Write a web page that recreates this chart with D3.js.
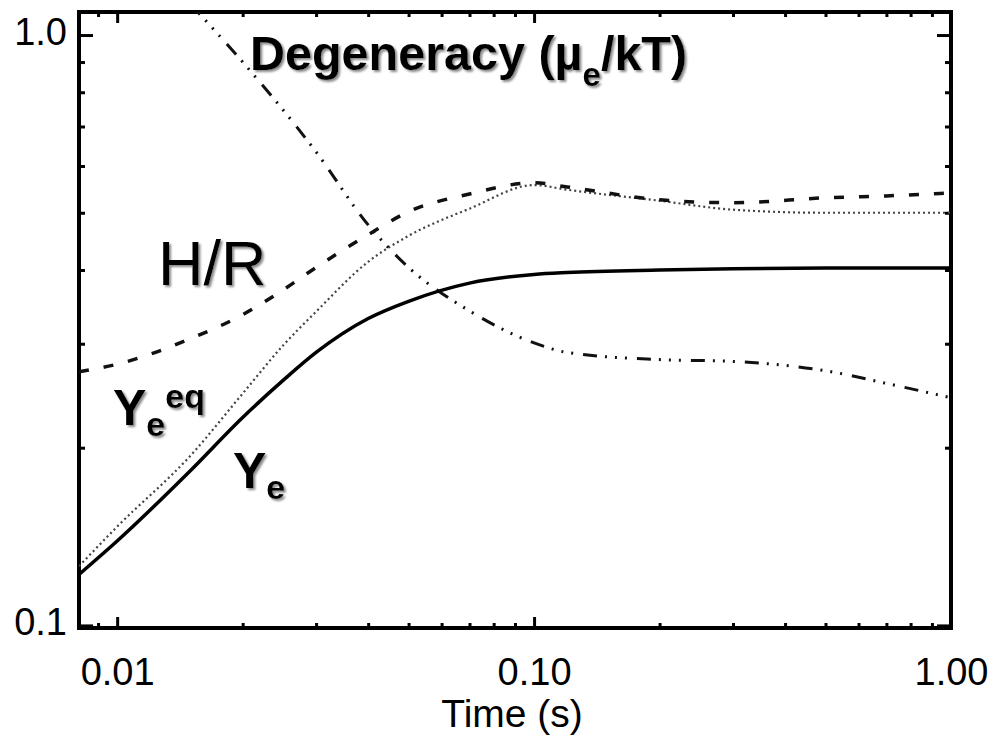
<!DOCTYPE html>
<html>
<head>
<meta charset="utf-8">
<script src="https://cdn.jsdelivr.net/npm/d3@7"></script>
<style>
  body { margin: 0; background: #fff; }
</style>
</head>
<body>
<div id="chart"></div>
<script>
// data (log-log axes)
var times      = [0.0081, 0.01, 0.015, 0.02, 0.025, 0.03, 0.04, 0.05, 0.07, 0.1, 0.12, 0.2, 0.3, 0.5, 0.7, 1.0];
var yeValues   = [0.122, 0.139, 0.183, 0.225, 0.260, 0.290, 0.331, 0.354, 0.380, 0.393, 0.396, 0.400, 0.402, 0.403, 0.403, 0.403];
var yeEqValues = [0.126, 0.147, 0.194, 0.247, 0.298, 0.340, 0.413, 0.457, 0.508, 0.557, 0.547, 0.524, 0.506, 0.500, 0.500, 0.500];
var hrValues   = [0.269, 0.277, 0.306, 0.336, 0.370, 0.404, 0.459, 0.502, 0.538, 0.562, 0.553, 0.526, 0.520, 0.530, 0.534, 0.540];

var degTimes  = [0.015, 0.02, 0.03, 0.04, 0.05, 0.07, 0.1, 0.12, 0.2, 0.3, 0.5, 0.7, 1.0];
var degValues = [1.128, 0.900, 0.634, 0.477, 0.404, 0.341, 0.301, 0.290, 0.282, 0.280, 0.270, 0.257, 0.243];

var xMajorTicks = [0.01, 0.1, 1.0];
var xTickLabels = ["0.01", "0.10", "1.00"];
var yMajorTicks = [0.1, 1.0];
var yTickLabels = ["0.1", "1.0"];

// Step 1: workspace
var svgWidth = 993;
var svgHeight = 737;
var margin = { top: 12, right: 42, bottom: 109, left: 79 };
var width = svgWidth - margin.left - margin.right;
var height = svgHeight - margin.top - margin.bottom;

var svg = d3.select("#chart")
  .append("svg")
  .attr("width", svgWidth)
  .attr("height", svgHeight);

// soft grey drop shadow used by the in-plot labels
var shadow = svg.append("defs").append("filter")
  .attr("id", "shadow")
  .attr("x", "-10%").attr("y", "-20%")
  .attr("width", "130%").attr("height", "150%");
shadow.append("feDropShadow")
  .attr("dx", 2).attr("dy", 2)
  .attr("stdDeviation", 0.8)
  .attr("flood-color", "#8a8a8a")
  .attr("flood-opacity", 1);

var chartGroup = svg.append("g")
  .attr("transform", `translate(${margin.left}, ${margin.top})`);

// Step 2: scales
var xScale = d3.scaleLog()
  .domain([0.0081, 1.0])
  .range([0, width]);

var yScale = d3.scaleLog()
  .domain([0.099, 1.094])
  .range([height, 0]);

var xMinor = xScale.ticks().filter(t => xMajorTicks.indexOf(t) < 0);
var yMinor = yScale.ticks().filter(t => Math.abs(t - 0.1) > 1e-9 && Math.abs(t - 1) > 1e-9);

// Step 3: axes (ticks point inward on all four sides)
function addAxis(axis, transform) {
  var g = chartGroup.append("g")
    .attr("transform", transform)
    .call(axis);
  g.select(".domain").remove();
  g.selectAll(".tick line").attr("stroke", "#000").attr("stroke-width", 3);
  g.selectAll("text")
    .attr("font-family", "Liberation Sans, Arial, sans-serif")
    .attr("font-size", 38)
    .attr("fill", "#000");
  return g;
}

// bottom
addAxis(d3.axisBottom(xScale).tickValues(xMajorTicks).tickSize(-11).tickPadding(30)
  .tickFormat((d, i) => xTickLabels[i]), `translate(0, ${height})`);
addAxis(d3.axisBottom(xScale).tickValues(xMinor).tickSize(-5).tickFormat(""), `translate(0, ${height})`);
// top
addAxis(d3.axisTop(xScale).tickValues(xMajorTicks).tickSize(-11).tickFormat(""), "translate(0, 0)");
addAxis(d3.axisTop(xScale).tickValues(xMinor).tickSize(-5).tickFormat(""), "translate(0, 0)");
// left
var yLab = addAxis(d3.axisLeft(yScale).tickValues(yMajorTicks).tickSize(-14).tickPadding(12)
  .tickFormat((d, i) => yTickLabels[i]), "translate(0, 0)");
yLab.selectAll("text").attr("dy", "0.25em");
addAxis(d3.axisLeft(yScale).tickValues(yMinor).tickSize(-6).tickFormat(""), "translate(0, 0)");
// right
addAxis(d3.axisRight(yScale).tickValues(yMajorTicks).tickSize(-14).tickFormat(""), `translate(${width}, 0)`);
addAxis(d3.axisRight(yScale).tickValues(yMinor).tickSize(-6).tickFormat(""), `translate(${width}, 0)`);

// frame
chartGroup.append("rect")
  .attr("width", width)
  .attr("height", height)
  .attr("fill", "none")
  .attr("stroke", "#000")
  .attr("stroke-width", 4);

// axis title
chartGroup.append("text")
  .attr("x", xScale(0.1) - 22)
  .attr("y", height + 99)
  .attr("text-anchor", "middle")
  .attr("font-family", "Liberation Sans, Arial, sans-serif")
  .attr("font-size", 39)
  .text("Time (s)");

// Step 4: lines
chartGroup.append("clipPath")
  .attr("id", "plotClip")
  .append("rect")
  .attr("width", width)
  .attr("height", height);

var lineGen = d3.line()
  .x(d => xScale(d[0]))
  .y(d => yScale(d[1]))
  .curve(d3.curveMonotoneX);

var lines = chartGroup.append("g").attr("clip-path", "url(#plotClip)");

function addLine(ts, vals, w, color, dash) {
  lines.append("path")
    .datum(ts.map((t, i) => [t, vals[i]]))
    .attr("d", lineGen)
    .attr("fill", "none")
    .attr("stroke", color)
    .attr("stroke-width", w)
    .attr("stroke-dasharray", dash);
}

addLine(times, yeEqValues, 2.2, "#444", "2,3");
addLine(times, hrValues, 3.5, "#111", "10,15");
addLine(degTimes, degValues, 3, "#111", "14,8,2,8,2,8,2,10");
addLine(times, yeValues, 3.5, "#000", null);

// Step 5: labels
function addLabel(x, y, parts, weight) {
  var t = chartGroup.append("text")
    .attr("x", x)
    .attr("y", y)
    .attr("font-family", "Liberation Sans, Arial, sans-serif")
    .attr("font-weight", weight)
    .attr("fill", "#000")
    .attr("filter", "url(#shadow)");
  parts.forEach(function(p) {
    t.append("tspan")
      .attr("font-size", p.size)
      .attr("dy", p.dy || 0)
      .text(p.text);
  });
}

addLabel(171, 58, [
  { text: "Degeneracy (\u00b5", size: 48.5 },
  { text: "e", size: 33, dy: 16 },
  { text: "/kT)", size: 48.5, dy: -16 }
], "bold");

addLabel(79, 273, [{ text: "H/R", size: 63 }], "normal");

addLabel(34, 413, [
  { text: "Y", size: 50 },
  { text: "e", size: 34, dy: 11 },
  { text: "eq", size: 34, dy: -28 }
], "bold");

addLabel(154, 476, [
  { text: "Y", size: 50 },
  { text: "e", size: 34, dy: 11 }
], "bold");
</script>
</body>
</html>
